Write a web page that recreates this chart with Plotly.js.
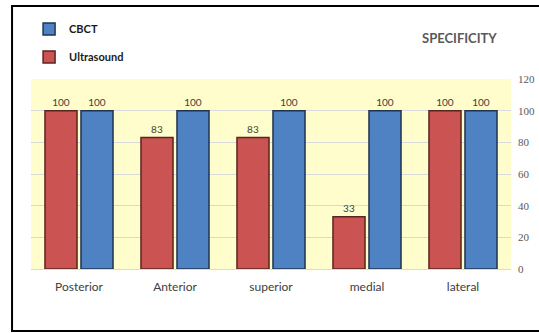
<!DOCTYPE html>
<html><head><meta charset="utf-8">
<script src="https://cdn.plot.ly/plotly-3.0.1.min.js"></script>
<style>html,body{margin:0;padding:0;background:#fff}#chart{width:539px;height:333px}</style>
</head><body><div id="chart"></div>
<script>
const categories = ["Posterior", "Anterior", "superior", "medial", "lateral"];
const ultrasound = [100, 83, 83, 33, 100];
const cbct = [100, 100, 100, 100, 100];
const yTicks = [0, 20, 40, 60, 80, 100, 120];

const font = "Lato, 'Open Sans', 'DejaVu Sans', sans-serif";
const traces = [
  {type: "bar", name: "<b>Ultrasound</b>", x: categories, y: ultrasound, legend: "legend2",
   marker: {color: "#CB5452", line: {color: "#5a2422", width: 1.5}},
   text: ultrasound.map(String), textposition: "outside", cliponaxis: false,
   textfont: {size: 10, color: "#404040", family: font}},
  {type: "bar", name: "<b>CBCT</b>", x: categories, y: cbct, legend: "legend",
   marker: {color: "#4E82C2", line: {color: "#1f3550", width: 1.5}},
   text: cbct.map(String), textposition: "outside", cliponaxis: false,
   textfont: {size: 10, color: "#404040", family: font}}
];
const legendBase = {x: -0.004, xanchor: "left", yanchor: "middle",
  font: {size: 11, color: "#1a1a1a", family: font}, itemwidth: 30, bgcolor: "rgba(0,0,0,0)"};
const layout = {
  width: 539, height: 333,
  margin: {l: 31, r: 28, t: 79, b: 64, autoexpand: false},
  paper_bgcolor: "#ffffff", plot_bgcolor: "#FFFDCB",
  barmode: "group", bargap: 0.25, bargroupgap: 0.11,
  font: {family: font, color: "#404040"},
  showlegend: true,
  legend: Object.assign({}, legendBase, {y: 1.263}),
  legend2: Object.assign({}, legendBase, {y: 1.116}),
  annotations: [{text: "<b>SPECIFICITY</b>", xref: "paper", yref: "paper", x: 0.893, y: 1.216,
                 xanchor: "center", yanchor: "middle", showarrow: false,
                 font: {size: 13, color: "#595959", family: font}}],
  xaxis: {showgrid: false, zeroline: false, showline: false, ticks: "", ticklabelstandoff: 9,
          tickfont: {size: 12, color: "#404040", family: font}},
  yaxis: {side: "right", range: [0, 120], tickvals: yTicks, showgrid: true,
          gridcolor: "#D9D9D9", zeroline: true, zerolinecolor: "#D9D9D9", showline: false,
          ticks: "", ticklabelstandoff: 6,
          tickfont: {size: 11, color: "#595959", family: "'Liberation Serif', serif"}},
  shapes: [{type: "rect", xref: "paper", yref: "paper", x0: -0.0395, x1: 1.1, y0: -0.326, y1: 1.384,
            line: {color: "#000", width: 2}, fillcolor: "rgba(0,0,0,0)", layer: "below"}]
};
Plotly.newPlot("chart", traces, layout, {displayModeBar: false, staticPlot: true});
</script></body></html>
